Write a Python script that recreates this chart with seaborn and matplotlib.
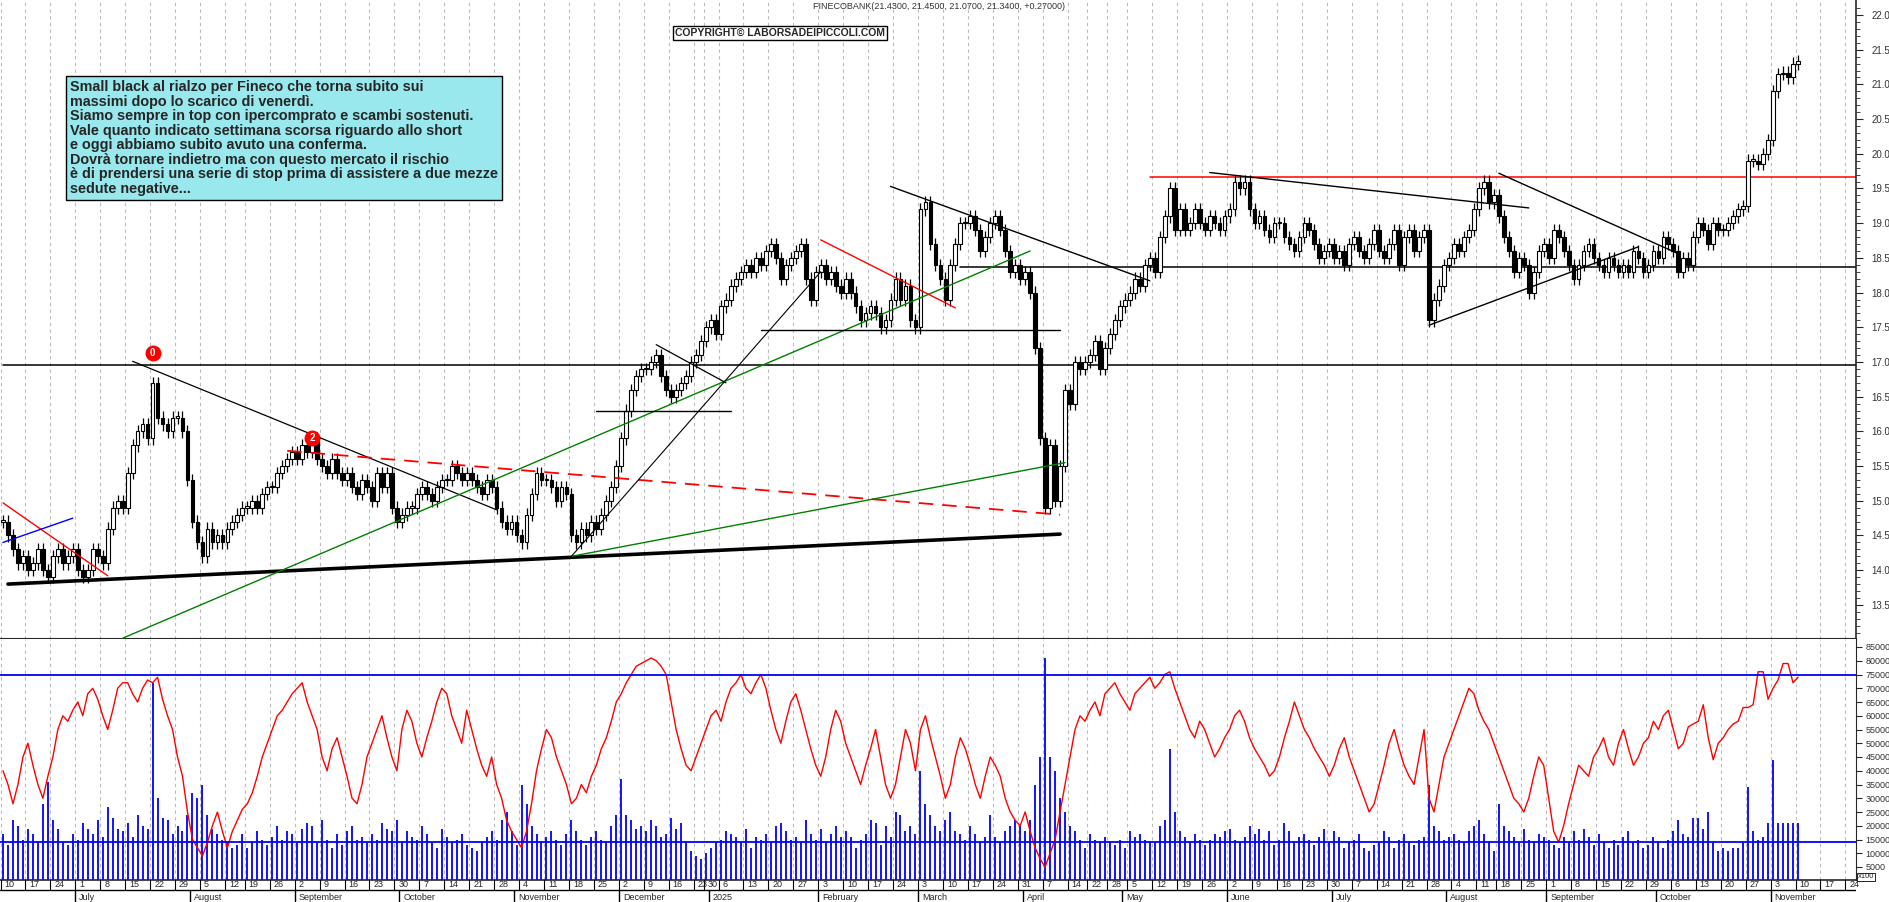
import numpy as np, pandas as pd, matplotlib
matplotlib.use("Agg")
import matplotlib.pyplot as plt
import seaborn as sns

sns.set_style("white")
plt.rcParams['font.family'] = ['Liberation Sans', 'DejaVu Sans']

# ---------------- data (weekly groups of daily values) ----------------
closes_w = [
 [14.7,14.5,14.3,14.1,14.2],[14.0,14.1,14.3,14.0,13.9],[14.2,14.3,14.1,14.2,14.3],[14.0,13.9,14.0,14.3,14.2],
 [14.1,14.6,14.9,15.0,14.9],[15.4,15.8,16.0,16.1,15.9],[16.7,16.2,16.1,16.0,16.2],[16.2,16.0,15.3,14.7,14.4],
 [14.2,14.6,14.4,14.5,14.4],[14.6,14.7,14.8,14.9],[14.9,15.0,14.9,15.1,15.2],[15.2,15.4,15.5,15.6,15.7],
 [15.6,15.8,15.7,15.9,15.6],[15.5,15.4,15.6,15.4,15.3],[15.4,15.2,15.1,15.3,15.2],[15.0,15.4,15.2,15.4,14.9],
 [14.7,14.8,14.9,14.9,15.1],[15.2,15.1,15.0,15.2,15.3],[15.3,15.5,15.4,15.3,15.4],[15.3,15.2,15.1,15.3,15.2],
 [14.9,14.7,14.6,14.7,14.5],[14.4,14.8,15.1,15.4,15.3],[15.3,15.2,15.0,15.2,15.1],[14.5,14.4,14.6,14.5,14.7],
 [14.6,14.8,15.0,15.2,15.5],[15.9,16.3,16.6,16.8,16.9],[16.9,17.0,17.1,16.8,16.6],[16.5,16.6,16.7,16.8,17.0],
 [17.1,17.3],[17.5,17.6,17.4],[17.8,17.9,18.1,18.2,18.3],[18.4,18.3,18.5,18.4,18.6],[18.7,18.5,18.2,18.4,18.5],
 [18.6,18.7,18.2,17.9,18.3],[18.4,18.2,18.3,18.1,18.0],[18.2,18.0,17.8,17.6,17.7],[17.8,17.7,17.5,17.6,17.9],
 [18.2,17.9,18.1,17.6,17.5],[19.2,19.3,18.7,18.4,18.2],[17.9,18.4,18.7,19.0,19.0],[19.1,18.9,18.6,18.8,19.0],
 [19.1,18.9,18.6,18.3,18.4],[18.2,18.3,18.0,17.2,15.9],[14.9,15.8,15.0,15.5,16.6],[16.4,17.0,16.9,17.0],
 [17.1,17.3,16.9,17.2],[17.4,17.6,17.8,17.9],[18.0,18.2,18.1,18.4,18.5],[18.3,18.8,19.1,19.5,18.9],
 [19.2,18.9,19.0,19.2,19.0],[18.9,19.1,19.0,18.9,19.1],[19.2,19.6,19.5,19.6,19.2],[19.0,19.1,18.9,18.8,19.0],
 [19.0,18.8,18.7,18.6,18.8],[19.0,18.9,18.7,18.5,18.6],[18.7,18.5,18.6,18.4,18.7],[18.8,18.6,18.5,18.7,18.9],
 [18.6,18.5,18.7,18.9,18.4],[18.8,18.9,18.6,18.8,18.9],[17.6,17.9,18.1,18.4,18.5],[18.7,18.6,18.8,18.9,19.2],
 [19.5,19.6,19.3,19.4],[19.1,18.8,18.6,18.3,18.5],[18.4,18.0,18.3,18.6,18.7],[18.5,18.9,18.8,18.6,18.4],
 [18.2,18.4,18.6,18.7,18.5],[18.4,18.3,18.5,18.4,18.3],[18.4,18.3,18.6,18.5,18.3],[18.4,18.6,18.5,18.8,18.7],
 [18.6,18.3,18.5,18.4,18.8],[19.0,18.9,18.7,19.0,18.9],[18.9,19.0,19.1,19.2,19.25],[19.9,19.9,19.85,20.0,20.2],
 [20.9,21.15,21.17,21.1,21.3],[21.34]]

osc_w = [
 [40,35,28,35,45],[50,42,35,30,38],[45,55,60,58,62],[65,60,68,70,66],[60,55,62,70,72],[72,68,65,70,73],
 [72,74,66,60,55],[45,38,25,15,12],[9,14,20,25,18],[12,18,22,26],[28,32,38,45,50],[55,60,62,65,68],
 [70,72,65,60,55],[45,40,48,52,45],[38,30,28,35,45],[50,55,60,52,45],[40,55,62,58,50],[45,52,58,65,70],
 [68,60,55,50,62],[55,48,42,38,45],[35,30,22,18,15],[12,18,28,40,48],[55,52,45,40,35],[28,30,35,32,38],
 [42,48,52,58,65],[68,72,75,78,79],[80,81,80,78,75],[65,55,48,42,40],[45,50],[55,60,62],
 [58,65,70,72,75],[70,68,72,75,70],[62,55,50,58,65],[68,62,55,48,42],[38,45,55,62,58],[50,45,40,35,42],
 [48,55,45,35,30],[35,45,55,50,40],[55,60,52,45,38],[30,35,45,52,48],[42,35,30,38,45],[42,38,30,25,22],
 [20,25,18,12,8],[5,10,15,25,35],[45,55,60,58],[62,65,60,68],[70,72,68,65],[62,68,70,72,74],
 [70,72,75,76,70],[65,60,55,52,58],[55,50,45,48,52],[55,60,62,58,52],[48,45,42,38,40],[45,52,58,65,60],
 [55,52,48,45,42],[38,42,48,52,45],[40,35,30,25,28],[35,42,50,55,48],[42,38,35,45,55],[30,25,35,45,50],
 [55,60,65,70,68],[62,58,55,50],[45,40,35,30,28],[25,30,38,45,42],[30,18,14,20,28],[35,42,40,38,45],
 [48,52,45,42,50],[55,48,42,45,50],[52,58,55,60,62],[55,48,50,56,57],[58,64,52,44,50],[52,55,57,58,63],
 [63,64,76,76,66],[70,73,79,79,72],[74]]

vol_w = [
 [17,13,22,20,15],[19,17,14,28,36],[22,19,14,13,17],[15,21,19,17,22],[16,27,23,19,18],[21,16,24,20,19],
 [72,30,23,22,17],[20,18,24,32,30],[35,24,19,17,15],[14,12,13,17],[12,14,18,15,13],[16,20,15,18,17],
 [14,19,21,20,14],[22,15,12,17,13],[18,20,15,16,14],[17,15,21,19,18],[22,14,18,16,15],[20,17,14,12,19],
 [16,14,15,17,13],[12,11,14,16,18],[15,22,25,18,13],[35,28,20,17,14],[16,18,15,13,17],[22,18,15,13,16],
 [18,15,14,20,24],[37,24,22,19,20],[18,22,20,16,17],[23,19,21,14,11],[9,8],[10,12,14],
 [15,18,17,16,14],[19,12,16,15,17],[14,20,21,18,15],[16,14,22,17,15],[19,14,17,20,16],[18,16,12,15,17],
 [22,21,13,20,16],[25,24,18,20,17],[40,28,24,20,18],[22,25,18,17,15],[20,17,14,16,24],[16,14,18,20,22],
 [20,18,22,35,45],[81,45,40,30,25],[20,18,15,12],[17,15,14,16],[14,13,15,12],[18,16,17,15,14],
 [14,20,22,48,25],[18,16,14,17,15],[13,15,17,16,18],[19,15,14,16,20],[17,19,15,18,13],[15,21,18,14,16],
 [17,15,13,16,19],[14,18,16,12,14],[15,17,12,11,13],[14,18,16,12,15],[17,14,13,15,16],[35,20,18,15,16],
 [17,15,14,18,20],[22,17,14,11],[28,20,18,16,14],[19,15,14,17,16],[15,13,12,16,14],[18,15,19,16,13],
 [17,14,12,15,13],[16,18,14,15,12],[13,16,14,12,15],[18,22,17,16,23],[23,19,25,14,11],[12,11,12,12,14],
 [34,18,15,16,21],[44,21,21,21,21],[21]]

holidays = ["2024-08-15","2024-12-24","2024-12-25","2024-12-26","2024-12-31","2025-01-01",
            "2025-04-18","2025-04-21","2025-05-01","2025-08-15"]

# trend lines: (date1, price1, date2, price2, color, width, style)
trendlines = [
 ("2024-06-11",13.80,"2025-04-10",14.52,"black",2.6,"-"),
 ("2024-06-10",14.97,"2024-07-09",13.92,"red",1.0,"-"),
 ("2024-06-10",14.40,"2024-06-28",14.75,"blue",1.0,"-"),
 ("2024-07-16",17.01,"2024-10-28",14.87,"black",0.9,"-"),
 ("2024-08-29",15.72,"2025-04-10",14.80,"red",1.3,(0,(8,5))),
 ("2024-07-12",13.02,"2025-04-02",18.60,"green",1.0,"-"),
 ("2024-11-18",14.20,"2025-04-11",15.55,"green",1.0,"-"),
 ("2024-11-18",14.20,"2025-02-03",18.30,"black",0.8,"-"),
 ("2024-11-25",16.30,"2025-01-08",16.30,"black",1.0,"-"),
 ("2024-12-11",17.25,"2025-01-07",16.70,"black",0.9,"-"),
 ("2025-01-16",17.46,"2025-04-10",17.46,"black",1.0,"-"),
 ("2025-02-03",18.76,"2025-03-12",17.78,"red",1.0,"-"),
 ("2025-02-21",19.53,"2025-05-09",18.17,"black",1.0,"-"),
 ("2025-05-27",19.73,"2025-08-26",19.22,"black",1.0,"-"),
 ("2025-07-28",17.53,"2025-09-25",18.66,"black",1.0,"-"),
 ("2025-08-18",19.72,"2025-10-07",18.56,"black",1.0,"-"),
]
hlines = [(16.95,"2024-06-10","black"),(18.37,"2025-03-13","black"),(19.67,"2025-05-09","red")]
vol_hlines = [75000,14000]
labels_marks = [("0","2024-07-22",17.13),("2","2024-09-05",15.90)]
note = ("Small black al rialzo per Fineco che torna subito sui\nmassimi dopo lo scarico di venerdì.\n"
        "Siamo sempre in top con ipercomprato e scambi sostenuti.\nVale quanto indicato settimana scorsa riguardo allo short\n"
        "e oggi abbiamo subito avuto una conferma.\nDovrà tornare indietro ma con questo mercato il rischio\n"
        "è di prendersi una serie di stop prima di assistere a due mezze\nsedute negative...")
title = "FINECOBANK(21.4300, 21.4500, 21.0700, 21.3400, +0.27000)"

# ---------------- build ----------------
close = np.array([v for w in closes_w for v in w])
osc = np.array([v for w in osc_w for v in w]) * 1000
vol = np.array([v for w in vol_w for v in w]) * 1000
n = len(close)
alldays = pd.bdate_range("2024-06-10", "2025-12-31")
alldays = alldays[~alldays.isin(pd.to_datetime(holidays))]
dates = alldays[:n]
x = np.arange(n)
opn = np.r_[close[0], close[:-1]]
hi = np.maximum(opn, close) + 0.09
lo = np.minimum(opn, close) - 0.09

def di(d):
    return int(np.searchsorted(dates, pd.Timestamp(d)))

W, H = 1890, 902
fig = plt.figure(figsize=(W/100, H/100), dpi=100)
axw = 1856
ax = fig.add_axes([0, 1-639/H, axw/W, 639/H])
axv = fig.add_axes([0, 1-880/H, axw/W, 241/H])
axd = fig.add_axes([0, 0, axw/W, 22/H])

ppd = (1798-3)/(n-1)
xl = (-3/ppd, (axw-3)/ppd)
for a in (ax, axv, axd):
    a.set_xlim(*xl)

week_starts = [i for i in range(n) if i == 0 or dates[i].weekday() < dates[i-1].weekday()]
ext = list(range(week_starts[-1]+5, int(xl[1])+1, 5))
grid_x = week_starts + ext
for a in (ax, axv):
    for g in grid_x:
        a.axvline(g - 0.5, color="#bbbbbb", lw=0.8, ls=(0,(3,3)), zorder=0)

up = close >= opn
ax.vlines(x, lo, hi, color="black", lw=0.9, zorder=3)
body = np.abs(close-opn); body = np.where(body < 0.02, 0.02, body)
ax.bar(x[up], body[up], bottom=np.minimum(opn,close)[up], width=0.75, color="white", edgecolor="black", lw=0.8, zorder=4)
ax.bar(x[~up], body[~up], bottom=np.minimum(opn,close)[~up], width=0.75, color="black", edgecolor="black", lw=0.8, zorder=4)

for d1,p1,d2,p2,c,lw,ls in trendlines:
    ax.plot([di(d1), di(d2)], [p1, p2], color=c, lw=lw, ls=ls, zorder=5)
for p, d, c in hlines:
    ax.plot([di(d), xl[1]], [p, p], color=c, lw=1.1, zorder=2)
for t, d, p in labels_marks:
    ax.scatter([di(d)], [p], s=110, color="red", zorder=6)
    ax.text(di(d), p, t, color="white", ha="center", va="center", fontsize=7, fontweight="bold", zorder=7)

ax.set_ylim(22 - 624/69.4, 22 + 15/69.4)
ax.yaxis.tick_right()
ax.set_yticks(np.arange(13.5, 22.01, 0.5))
ax.set_yticklabels([f"{v:.1f}" for v in np.arange(13.5, 22.01, 0.5)], fontsize=7, color="#333333")
ax.set_yticks(np.arange(13.1, 22.2, 0.1), minor=True)
ax.tick_params(axis="y", which="major", length=5, pad=6)
ax.tick_params(axis="y", which="minor", length=3)
ax.set_xticks([])
for s in ("top", "left"):
    ax.spines[s].set_visible(False)
ax.spines["bottom"].set_linewidth(1.5)
ax.spines["right"].set_linewidth(1.2)

ax.text(0.506, 0.997, title, transform=ax.transAxes, fontsize=6.5, ha="center", va="top", color="#333333")
fig.text(780/W, 1-33/H, "COPYRIGHT© LABORSADEIPICCOLI.COM", fontsize=7.5, fontweight="bold", ha="center",
         va="center", bbox=dict(boxstyle="square,pad=0.2", fc="white", ec="black", lw=1))
fig.text(70/W, 1-80/H, note, fontsize=10.4, fontweight="bold", va="top", ha="left", linespacing=1.05,
         bbox=dict(boxstyle="square,pad=0.3", fc="#99e8ee", ec="black", lw=1))

axv.vlines(x, 0, vol, color="blue", lw=1.3, zorder=2)
sns.lineplot(x=x, y=osc, ax=axv, color="red", lw=1.0, zorder=3)
for v in vol_hlines:
    axv.axhline(v, color="blue", lw=1.3, zorder=3)
axv.set_ylim(5000 - 13/0.00275, 85000 + 8/0.00275)
axv.yaxis.tick_right()
vt = np.arange(5000, 85001, 5000)
axv.set_yticks(vt)
axv.set_yticklabels([str(v) for v in vt], fontsize=6.5, color="#333333")
axv.tick_params(axis="y", length=4, pad=3)
axv.set_xticks([])
for s in ("top", "left"):
    axv.spines[s].set_visible(False)
axv.spines["bottom"].set_linewidth(1.2)
fig.text(1858/W, 1-877/H, "x100", fontsize=5.5, va="center",
         bbox=dict(boxstyle="square,pad=0.1", fc="white", ec="black", lw=0.6))

axd.set_ylim(0, 1)
axd.axis("off")
months = ["January","February","March","April","May","June","July","August","September","October","November","December"]
for g in grid_x:
    d = dates[g] if g < n else dates[week_starts[-1]] + pd.Timedelta(days=7*((g-week_starts[-1])//5))
    axd.plot([g-0.5, g-0.5], [0.55, 1], color="black", lw=0.8)
    axd.text(g+0.3, 0.78, str(d.day), fontsize=6.5, va="center", ha="left")
prev = None
for i in range(n):
    m = dates[i].month
    if prev is not None and m != prev:
        lab = "2025" if m == 1 else months[m-1]
        axd.plot([i-0.5, i-0.5], [0, 0.55], color="black", lw=1)
        axd.text(i+0.3, 0.22, lab, fontsize=6.5, va="center", ha="left")
    prev = m
axd.plot([xl[0], xl[1]], [0.55, 0.55], color="black", lw=1)

fig.savefig("out.png", dpi=100)
